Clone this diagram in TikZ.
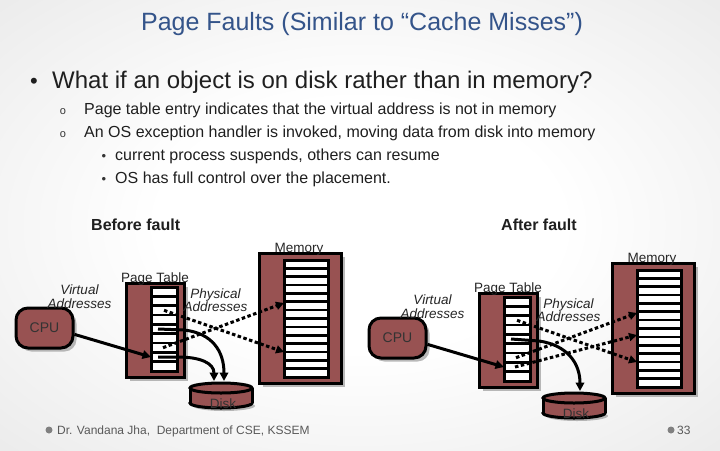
\documentclass[tikz,border=0pt]{standalone}
\usepackage{fontspec}
\setmainfont{Liberation Sans}
\usetikzlibrary{arrows.meta,shadows}
\definecolor{pfmaroon}{RGB}{152,82,82}
\definecolor{pftitle}{RGB}{52,84,138}
\pgfdeclareradialshading{slidebg}{\pgfpoint{0bp}{0bp}}{color(0bp)=(white); color(14bp)=(white); color(45bp)=(black!11); color(72bp)=(black!24)}
\tikzset{
  pfbox/.style={draw=black, line width=3pt, fill=pfmaroon, inner sep=0pt},
  pfshadow/.style={drop shadow={shadow xshift=3.5pt, shadow yshift=-3.5pt, fill=black!45, opacity=0.6}},
  pfcol/.style={draw=black, line width=3pt, fill=white, inner sep=0pt},
  pfrow/.style={line width=2.6pt},
  pflbl/.style={font=\fontsize{13.5}{14}\selectfont, text=black!85, inner sep=0pt, anchor=base},
  pfital/.style={pflbl, font=\fontsize{13.5}{14}\selectfont\itshape},
  pfsolid/.style={line width=3pt, -{Triangle[length=8.5pt,width=8.5pt]}},
  pfdot/.style={line width=3pt, dash pattern=on 3.5pt off 2.5pt, -{Triangle[length=8pt,width=8pt]}},
  pftxt/.style={inner sep=0pt, anchor=base west, text=black!88},
}
\newcommand{\pfdiagram}{%
  \node[pfbox, pfshadow, minimum width=82, minimum height=130] (mem) at (300,318) {};
  \node[pfcol, minimum width=44, minimum height=117] (memcol) at (306,318.5) {};
  \foreach \k in {1,...,13}{\draw[pfrow] (284,{260+\k*117/14}) -- (328,{260+\k*117/14});}
  \node[pfbox, pfshadow, minimum width=58, minimum height=94] (pt) at (155,330) {};
  \node[pfcol, minimum width=26, minimum height=84] (ptcol) at (164,329) {};
  \foreach \k in {1,...,8}{\draw[pfrow] (151,{287+\k*84/9}) -- (177,{287+\k*84/9});}
  \node[pfbox, pfshadow, rounded corners=12, minimum width=57, minimum height=40,
        font=\fontsize{14}{14}\selectfont, text=black!80] (cpu) at (44.5,328) {CPU};
  % disk
  \fill[black!45, opacity=0.6] (224,406) ellipse [x radius=31, y radius=5];
  \draw[pfbox] (221,403) ellipse [x radius=31, y radius=5];
  \fill[pfmaroon] (190,388) rectangle (252,403);
  \draw[line width=3pt] (190,388) -- (190,403) (252,388) -- (252,403);
  \draw[pfbox] (221,388) ellipse [x radius=31, y radius=5];
  % labels
  \node[pflbl] (memlbl) at (299,252) {Memory};
  \node[pflbl] (ptlbl) at (155,282) {Page Table};
  \node[pfital] (virt1) at (79.5,294) {Virtual};
  \node[pfital] (virt2) at (79.5,308) {Addresses};
  \node[pfital] (phys1) at (215.5,298) {Physical};
  \node[pfital] (phys2) at (215.5,311) {Addresses};
  \node[pflbl, text=black!80] (disklbl) at (223,408) {Disk};
  % connector end points
  \coordinate (row3) at (164,310.3);
  \coordinate (row5) at (158,329);
  \coordinate (row7) at (163,347.7);
  \coordinate (row8) at (158,357);
  \coordinate (row8d) at (162,357);
  \coordinate (row8in) at (151,357);
  \coordinate (mema) at (284,303);
  \coordinate (memb) at (284,325);
  \coordinate (memc) at (284,352);
  \coordinate (diska) at (214,381);
  \coordinate (diskb) at (224,381);
  \coordinate (diskc) at (227,381);
  \draw[pfsolid] (cpu.-12) -- (row8in);
  \draw[pfdot] (row3) -- (memc);
  \draw[pfdot] (row7) -- (mema);
}
\begin{document}
\begin{tikzpicture}[x=1pt,y=-1pt]
\useasboundingbox (0,0) rectangle (720,450);
\shade[shading=slidebg] (0,0) rectangle (720,450);

\node[inner sep=0pt, anchor=base, font=\fontsize{25}{25}\selectfont, text=pftitle] (title) at (362,30) {Page Faults (Similar to “Cache Misses”)};

\node[inner sep=0pt, anchor=base, font=\fontsize{22}{22}\selectfont, text=black!88] (b1) at (34,88) {•};
\node[pftxt, font=\fontsize{24}{24}\selectfont] (t1) at (52,88) {What if an object is on disk rather than in memory?};
\node[inner sep=0pt, anchor=base, font=\fontsize{11}{11}\selectfont, text=black!80] (b2) at (63,114) {o};
\node[pftxt, font=\fontsize{16}{16}\selectfont] (t2) at (84,114) {Page table entry indicates that the virtual address is not in memory};
\node[inner sep=0pt, anchor=base, font=\fontsize{11}{11}\selectfont, text=black!80] (b3) at (63,137) {o};
\node[pftxt, font=\fontsize{16}{16}\selectfont] (t3) at (84,137) {An OS exception handler is invoked, moving data from disk into memory};
\node[inner sep=0pt, anchor=base, font=\fontsize{13}{13}\selectfont, text=black!80] (b4) at (104,160) {•};
\node[pftxt, font=\fontsize{16}{16}\selectfont] (t4) at (115,160) {current process suspends, others can resume};
\node[inner sep=0pt, anchor=base, font=\fontsize{13}{13}\selectfont, text=black!80] (b5) at (104,183) {•};
\node[pftxt, font=\fontsize{16}{16}\selectfont] (t5) at (115,183) {OS has full control over the placement.};

\node[pftxt, font=\fontsize{16}{16}\selectfont\bfseries] (before) at (91,230) {Before fault};
\node[pftxt, font=\fontsize{16}{16}\selectfont\bfseries] (after) at (501,230) {After fault};

% Before fault
\begin{scope}[name prefix=L-]
  \pfdiagram
  \draw[pfsolid] (row5) -- +(26,1) .. controls +(28,3) and +(0,-30) .. (diskb);
  \draw[pfsolid] (row8) -- +(20,0) .. controls +(22,0) and +(0,-18) .. (diska);
\end{scope}

% After fault
\begin{scope}[shift={(353,10)}, name prefix=R-]
  \pfdiagram
  \draw[pfdot] (row8d) -- (memb);
  \draw[pfsolid] (row5) -- +(28,2) .. controls +(28,4) and +(0,-28) .. (diskc);
\end{scope}

% footer
\fill[black!50] (49,430) circle (3.5);
\node[pftxt, font=\fontsize{12}{12}\selectfont, text=black!65] (foot) at (57,434) {Dr. Vandana Jha,\ \ Department of CSE, KSSEM};
\fill[black!50] (671,430) circle (3.5);
\node[pftxt, font=\fontsize{12}{12}\selectfont, text=black!65] (pagenum) at (677,434) {33};
\end{tikzpicture}
\end{document}
